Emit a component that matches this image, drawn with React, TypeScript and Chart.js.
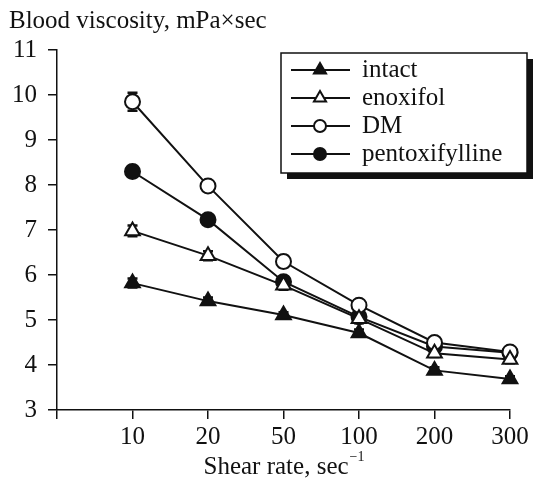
import React, { useEffect, useRef } from "react";
import { Chart, registerables } from "chart.js";

Chart.register(...registerables);

const xLabels = ["", "10", "20", "50", "100", "200", "300"];
const seriesNames = ["intact", "enoxifol", "DM", "pentoxifylline"];
const intact = [5.82, 5.42, 5.11, 4.71, 3.88, 3.69];
const enoxifol = [6.98, 6.43, 5.77, 5.03, 4.26, 4.12];
const dm = [9.85, 7.98, 6.3, 5.33, 4.5, 4.29];
const pentox = [8.3, 7.23, 5.85, 5.07, 4.41, 4.27];
const intactErr = [0.1, 0.08, 0.06, 0.08, 0.07, 0.06];
const enoxifolErr = [0.12, 0.1, 0.1, 0.1, 0.08, 0.08];
const dmErr = [0.2, 0.07, 0.13, 0.08, 0.07, 0.06];
const pentoxErr = [0.12, 0.08, 0.12, 0.08, 0.07, 0.07];

const FONT = "'Liberation Serif', 'Times New Roman', serif";
const INK = "#111";
const FS = 25;

const values = [intact, enoxifol, dm, pentox];
const errors = [intactErr, enoxifolErr, dmErr, pentoxErr];
const styles = [
  { pointStyle: "triangle", fill: INK, radius: 8.5, legendRadius: 7 },
  { pointStyle: "triangle", fill: "#fff", radius: 8.5, legendRadius: 7 },
  { pointStyle: "circle", fill: "#fff", radius: 7.5, legendRadius: 6 },
  { pointStyle: "circle", fill: INK, radius: 7.5, legendRadius: 6 },
];

function drawMarker(ctx: CanvasRenderingContext2D, style: string, r: number, fill: string, x: number, y: number) {
  ctx.beginPath();
  if (style === "triangle") {
    const h = r * Math.sqrt(3) / 2;
    ctx.moveTo(x, y - r);
    ctx.lineTo(x + h, y + r / 2);
    ctx.lineTo(x - h, y + r / 2);
    ctx.closePath();
  } else {
    ctx.arc(x, y, r, 0, Math.PI * 2);
  }
  ctx.fillStyle = fill;
  ctx.fill();
  ctx.strokeStyle = INK;
  ctx.lineWidth = 2;
  ctx.stroke();
}

const errorBars = {
  id: "errorBars",
  beforeDatasetsDraw(chart: any) {
    const ctx = chart.ctx;
    const ys = chart.scales.y;
    ctx.save();
    ctx.strokeStyle = INK;
    ctx.lineWidth = 2.5;
    chart.data.datasets.forEach((ds: any, di: number) => {
      const meta = chart.getDatasetMeta(di);
      meta.data.forEach((pt: any, i: number) => {
        const v = values[di][i];
        const e = errors[di][i];
        const top = ys.getPixelForValue(v + e);
        const bot = ys.getPixelForValue(v - e);
        const x = pt.x;
        ctx.beginPath();
        ctx.moveTo(x, top);
        ctx.lineTo(x, bot);
        ctx.moveTo(x - 5, top);
        ctx.lineTo(x + 5, top);
        ctx.moveTo(x - 5, bot);
        ctx.lineTo(x + 5, bot);
        ctx.stroke();
      });
    });
    ctx.restore();
  },
};

const decorations = {
  id: "decorations",
  afterDraw(chart: any) {
    const ctx = chart.ctx;
    ctx.save();
    ctx.fillStyle = INK;
    ctx.font = `${FS}px ${FONT}`;
    ctx.textBaseline = "alphabetic";
    ctx.textAlign = "left";
    ctx.fillText("Blood viscosity, mPa\u00d7sec", 9, 28);
    const main = "Shear rate, sec";
    const wMain = ctx.measureText(main).width;
    ctx.font = `14px ${FONT}`;
    const sup = "\u22121";
    const wSup = ctx.measureText(sup).width;
    const cx = (chart.chartArea.left + chart.chartArea.right) / 2;
    const start = cx - (wMain + wSup) / 2;
    ctx.font = `${FS}px ${FONT}`;
    ctx.fillText(main, start, 474);
    ctx.font = `14px ${FONT}`;
    ctx.fillText(sup, start + wMain + 1, 461);

    const bx = 281, by = 53, bw = 246, bh = 120;
    ctx.fillStyle = INK;
    ctx.fillRect(bx + 6, by + 6, bw, bh);
    ctx.fillStyle = "#fff";
    ctx.fillRect(bx, by, bw, bh);
    ctx.strokeStyle = INK;
    ctx.lineWidth = 1.5;
    ctx.strokeRect(bx, by, bw, bh);
    const rowY = [70, 98, 126, 154];
    seriesNames.forEach((name, i) => {
      const y = rowY[i];
      ctx.strokeStyle = INK;
      ctx.lineWidth = 2;
      ctx.beginPath();
      ctx.moveTo(291, y);
      ctx.lineTo(350, y);
      ctx.stroke();
      const st = styles[i];
      drawMarker(ctx, st.pointStyle, st.legendRadius, st.fill, 320, y);
      ctx.fillStyle = INK;
      ctx.font = `${FS}px ${FONT}`;
      ctx.textBaseline = "middle";
      ctx.fillText(name, 362, y);
    });
    ctx.restore();
  },
};

export default function App() {
  const ref = useRef<HTMLCanvasElement | null>(null);
  useEffect(() => {
    let chart: Chart | null = null;
    let cancelled = false;
    const build = () => {
      if (cancelled || !ref.current) return;
      const datasets = values.map((vals, di) => ({
        label: seriesNames[di],
        data: vals.map((v, i) => ({ x: i + 1, y: v })),
        borderColor: INK,
        borderWidth: 2,
        backgroundColor: styles[di].fill,
        pointBackgroundColor: styles[di].fill,
        pointBorderColor: INK,
        pointBorderWidth: 2,
        pointStyle: styles[di].pointStyle as any,
        pointRadius: styles[di].radius,
        tension: 0,
        clip: false as any,
      }));
      chart = new Chart(ref.current, {
        type: "line",
        data: { datasets },
        options: {
          animation: false,
          responsive: false,
          events: [],
          layout: { padding: { top: 50, right: 44, left: 0, bottom: 0 } },
          plugins: { legend: { display: false }, tooltip: { enabled: false } },
          scales: {
            x: {
              type: "linear",
              min: 0,
              max: 6,
              afterFit: (s: any) => {
                s.height = 73;
              },
              ticks: {
                stepSize: 1,
                autoSkip: false,
                maxRotation: 0,
                padding: 3,
                color: INK,
                font: { family: FONT, size: FS },
                callback: (v: any) => xLabels[Number(v)] ?? "",
              },
              grid: {
                drawOnChartArea: false,
                drawTicks: true,
                tickLength: 9,
                color: INK,
                lineWidth: 1.5,
              },
              border: { color: INK, width: 1.5 },
            },
            y: {
              min: 3,
              max: 11,
              afterFit: (s: any) => {
                s.width = 57;
              },
              ticks: {
                stepSize: 1,
                padding: 11,
                color: INK,
                font: { family: FONT, size: FS },
              },
              grid: {
                drawOnChartArea: false,
                drawTicks: true,
                tickLength: 9,
                color: INK,
                lineWidth: 1.5,
              },
              border: { color: INK, width: 1.5 },
            },
          },
        },
        plugins: [errorBars, decorations],
      });
    };
    const fonts: any = (document as any).fonts;
    if (fonts && fonts.load) {
      Promise.all([
        fonts.load(`${FS}px 'Liberation Serif'`),
        fonts.load("14px 'Liberation Serif'"),
      ])
        .catch(() => null)
        .then(build);
    } else {
      build();
    }
    return () => {
      cancelled = true;
      if (chart) chart.destroy();
    };
  }, []);
  return (
    <div style={{ position: "fixed", left: 0, top: 0, width: 554, height: 483, background: "#fff" }}>
      <canvas ref={ref} width={554} height={483} style={{ display: "block" }} />
    </div>
  );
}
